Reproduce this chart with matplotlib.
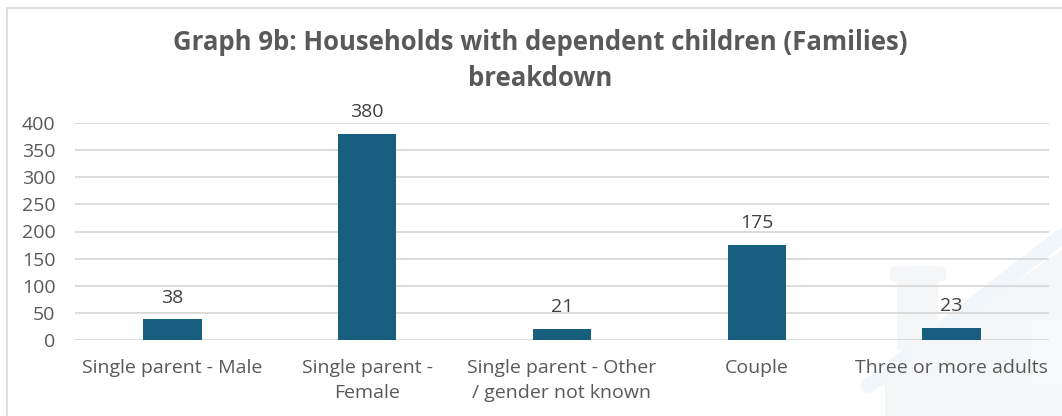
import numpy as np
from matplotlib import pyplot as plt
from matplotlib.patches import Rectangle, FancyBboxPatch, Polygon
from matplotlib.lines import Line2D

plt.rcParams['font.family'] = ['Open Sans', 'DejaVu Sans']

# household types and counts
categories = ["Single parent - Male", "Single parent -\nFemale",
              "Single parent - Other\n/ gender not known", "Couple",
              "Three or more adults"]
families = [38, 380, 21, 175, 23]
yticks = [0, 50, 100, 150, 200, 250, 300, 350, 400]

W, H = 1062, 416
fig = plt.figure(figsize=(W / 100, H / 100), dpi=100)

def fx(px):
    return px / W

def fy(py):
    return 1 - py / H

# faint house watermark in the lower right corner
wm_gray = '#F5F6F8'
fig.patches.append(Polygon([(fx(885), fy(416)), (fx(885), fy(372)),
                            (fx(1062), fy(250)), (fx(1062), fy(416))],
                           closed=True, transform=fig.transFigure,
                           facecolor=wm_gray, edgecolor='none', zorder=0))
fig.patches.append(Rectangle((fx(897), fy(350)), fx(41), 68 / H,
                             transform=fig.transFigure, facecolor=wm_gray,
                             edgecolor='none', zorder=0))
fig.patches.append(FancyBboxPatch((fx(892), fy(281)), fx(52), 14 / H,
                                  boxstyle='round,pad=0.002,rounding_size=0.01',
                                  transform=fig.transFigure, facecolor=wm_gray,
                                  edgecolor='none', zorder=0))
fig.patches.append(Rectangle((fx(1032), fy(385)), fx(30), 65 / H,
                             transform=fig.transFigure, facecolor='#F8F9FA',
                             edgecolor='none', zorder=0))
fig.lines.append(Line2D([fx(868), fx(1062)], [fy(386), fy(236)],
                        transform=fig.transFigure, color='#F1F6FB',
                        linewidth=11, solid_capstyle='round', zorder=0))

# chart area border
fig.patches.append(Rectangle((fx(7), fy(420)), fx(1070), 412 / H,
                             transform=fig.transFigure, facecolor='none',
                             edgecolor='#D9D9D9', linewidth=1.2, zorder=1))

ax = fig.add_axes([fx(75), fy(340), fx(1049 - 75), (340 - 123) / H])
ax.set_facecolor('none')
ax.set_zorder(2)

x = np.arange(len(categories))
bars = ax.bar(x, families, width=0.30, color='#175E7F', zorder=3)

for b, v in zip(bars, families):
    ax.text(b.get_x() + b.get_width() / 2, v + 40, str(v), ha='center',
            va='center', fontsize=14, color='#404040')

ax.set_xlim(-0.5, len(categories) - 0.5)
ax.set_ylim(0, 400)
ax.set_yticks(yticks)
ax.set_xticks(x)
ax.set_xticklabels(categories, fontsize=14, color='#595959', linespacing=1.5)
ax.tick_params(axis='y', labelsize=14, labelcolor='#595959', length=0, pad=14)
ax.tick_params(axis='x', length=0, pad=14)
ax.yaxis.grid(True, color='#D9D9D9', linewidth=1.3, zorder=0)
for s in ax.spines.values():
    s.set_visible(False)
ax.set_axisbelow(True)

fig.text(fx(540), fy(43), "Graph 9b: Households with dependent children (Families)",
         ha='center', va='center', fontsize=18.5, fontweight='bold', color='#595959')
fig.text(fx(540), fy(78), "breakdown",
         ha='center', va='center', fontsize=18.5, fontweight='bold', color='#595959')

fig.savefig('out.png', dpi=100)
